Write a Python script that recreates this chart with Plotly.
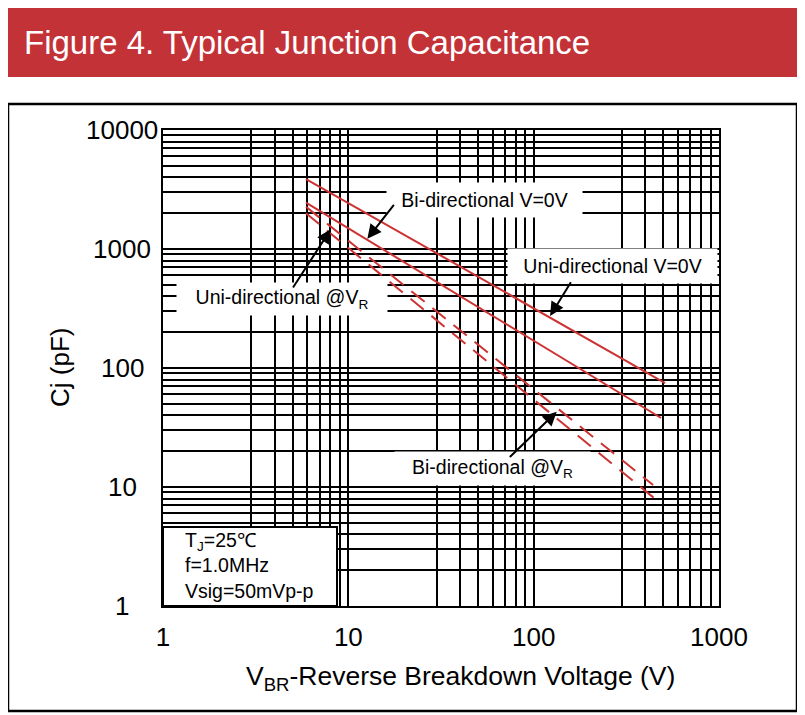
import math
import plotly.graph_objects as go

# ---- data ----
uni_v0_x = [5.91, 512]
uni_v0_y = [3873, 74.8]
bi_v0_x = [5.91, 487]
bi_v0_y = [2451, 38.0]
uni_vr_x = [5.91, 441]
uni_vr_y = [2265, 10.4]
bi_vr_x = [5.91, 481]
bi_vr_y = [1995, 7.34]

x_grid = [1, 3, 4, 5, 6, 7, 8, 9, 10, 30, 40, 50, 60, 70, 80, 90,
          100, 300, 400, 500, 600, 700, 800, 900, 1000]
x_labels = {1: "1", 10: "10", 100: "100", 1000: "1000"}
y_grid = [m * 10 ** d for d in range(4) for m in range(1, 10)] + [10000]
y_labels = {1: "1", 10: "10", 100: "100", 1000: "1000", 10000: "10000"}

RED = "#cc3333"
FONT = "Liberation Sans, Arial, sans-serif"

fig = go.Figure()
fig.add_trace(go.Scatter(x=uni_v0_x, y=uni_v0_y, mode="lines",
                         line=dict(color=RED, width=2), name="Uni-directional V=0V"))
fig.add_trace(go.Scatter(x=bi_v0_x, y=bi_v0_y, mode="lines",
                         line=dict(color=RED, width=2), name="Bi-directional V=0V"))
fig.add_trace(go.Scatter(x=uni_vr_x, y=uni_vr_y, mode="lines",
                         line=dict(color=RED, width=2, dash="17px,10px"),
                         name="Uni-directional @VR"))
fig.add_trace(go.Scatter(x=bi_vr_x, y=bi_vr_y, mode="lines",
                         line=dict(color=RED, width=2, dash="17px,10px"),
                         name="Bi-directional @VR"))

# screen-pixel geometry of the plot area (page has an 8px body margin)
OFF = 8
L, R, T, B = 163, 719, 130, 606
SW, SH = 805, 715


def px(xp):
    return (xp - L) / (R - L)


def py(yp):
    return (B - yp) / (B - T)


lg = math.log10
annotations = []

# y tick labels, centred like the reference
for v in y_grid:
    if v in y_labels:
        annotations.append(dict(text=y_labels[v], x=px(122), y=lg(v),
                                xref="paper", yref="y", showarrow=False,
                                xanchor="center", yanchor="middle",
                                font=dict(family=FONT, size=26, color="black")))

# label boxes (centre in data units, width, height)
labels = [
    ("Bi-directional V=0V", 54.3, 2582, 195, 34),
    ("Uni-directional V=0V", 266.6, 719.5, 209, 34),
    ("Uni-directional @V<sub>R</sub>", 4.39, 380, 210, 32),
    ("Bi-directional @V<sub>R</sub>", 60.0, 14.3, 195, 33),
]
for text, cx, cy, w, h in labels:
    annotations.append(dict(text=text, x=lg(cx), y=lg(cy), xref="x", yref="y",
                            showarrow=False, xanchor="center", yanchor="middle",
                            width=w, height=h, bgcolor="white", borderpad=0,
                            font=dict(family=FONT, size=19.5, color="black")))

# arrows: (tip_x, tip_y, tail_x, tail_y)
arrows = [
    (12.67, 1221, 17.87, 2421),
    (122.6, 273.5, 160.6, 541.6),
    (8.04, 1464, 4.97, 461),
    (133.2, 42.9, 73.0, 17.4),
]
for tx, ty, ax, ay in arrows:
    annotations.append(dict(text="", x=lg(tx), y=lg(ty), xref="x", yref="y",
                            ax=lg(ax), ay=lg(ay), axref="x", ayref="y",
                            showarrow=True, arrowhead=2, arrowsize=1.4,
                            arrowwidth=2, arrowcolor="black", standoff=0))

# conditions text
annotations.append(dict(text="T<sub>J</sub>=25℃<br>f=1.0MHz<br>Vsig=50mVp-p",
                        x=px(183), y=py(565.5), xref="paper", yref="paper",
                        xanchor="left", yanchor="middle", align="left",
                        showarrow=False,
                        font=dict(family=FONT, size=19.5, color="black")))

# title
annotations.append(dict(text="Figure 4. Typical Junction Capacitance",
                        x=px(22), y=py(42), xref="paper", yref="paper",
                        xanchor="left", yanchor="middle", showarrow=False,
                        font=dict(family=FONT, size=33, color="white")))

# axis titles
annotations.append(dict(text="V<sub>BR</sub>-Reverse Breakdown Voltage (V)",
                        x=px(460), y=py(678), xref="paper", yref="paper",
                        xanchor="center", yanchor="middle", showarrow=False,
                        font=dict(family=FONT, size=26.5, color="black")))
annotations.append(dict(text="Cj (pF)", textangle=-90,
                        x=px(60), y=py(368), xref="paper", yref="paper",
                        xanchor="center", yanchor="middle", showarrow=False,
                        font=dict(family=FONT, size=26, color="black")))

shapes = [
    dict(type="rect", xref="paper", yref="paper", x0=px(5), x1=px(800),
         y0=py(77), y1=py(5), fillcolor="#c33236", line=dict(width=0), layer="below"),
    dict(type="rect", xref="paper", yref="paper", x0=px(8), x1=px(797),
         y0=py(711), y1=py(104), fillcolor="rgba(0,0,0,0)",
         line=dict(color="black", width=2.5), layer="below"),
    dict(type="rect", xref="paper", yref="paper", x0=0, x1=px(337),
         y0=0, y1=py(527), fillcolor="white",
         line=dict(color="black", width=2), layer="above"),
]

axis_common = dict(type="log", showgrid=True, gridcolor="black", gridwidth=2,
                   zeroline=False, showline=True, mirror=True, linecolor="black",
                   linewidth=2, ticks="")

fig.update_layout(
    width=SW - OFF, height=SH - OFF,
    margin=dict(l=L - OFF, r=SW - R, t=T - OFF, b=SH - B),
    paper_bgcolor="white", plot_bgcolor="white",
    showlegend=False,
    xaxis=dict(range=[0, 3], tickvals=x_grid,
               ticktext=[x_labels.get(v, "") for v in x_grid],
               ticklabelstandoff=7,
               tickfont=dict(family=FONT, size=26, color="black"), **axis_common),
    yaxis=dict(range=[0, 4], tickvals=y_grid, showticklabels=False,
               **axis_common),
    annotations=annotations,
    shapes=shapes,
)

fig.write_html("out.html")
